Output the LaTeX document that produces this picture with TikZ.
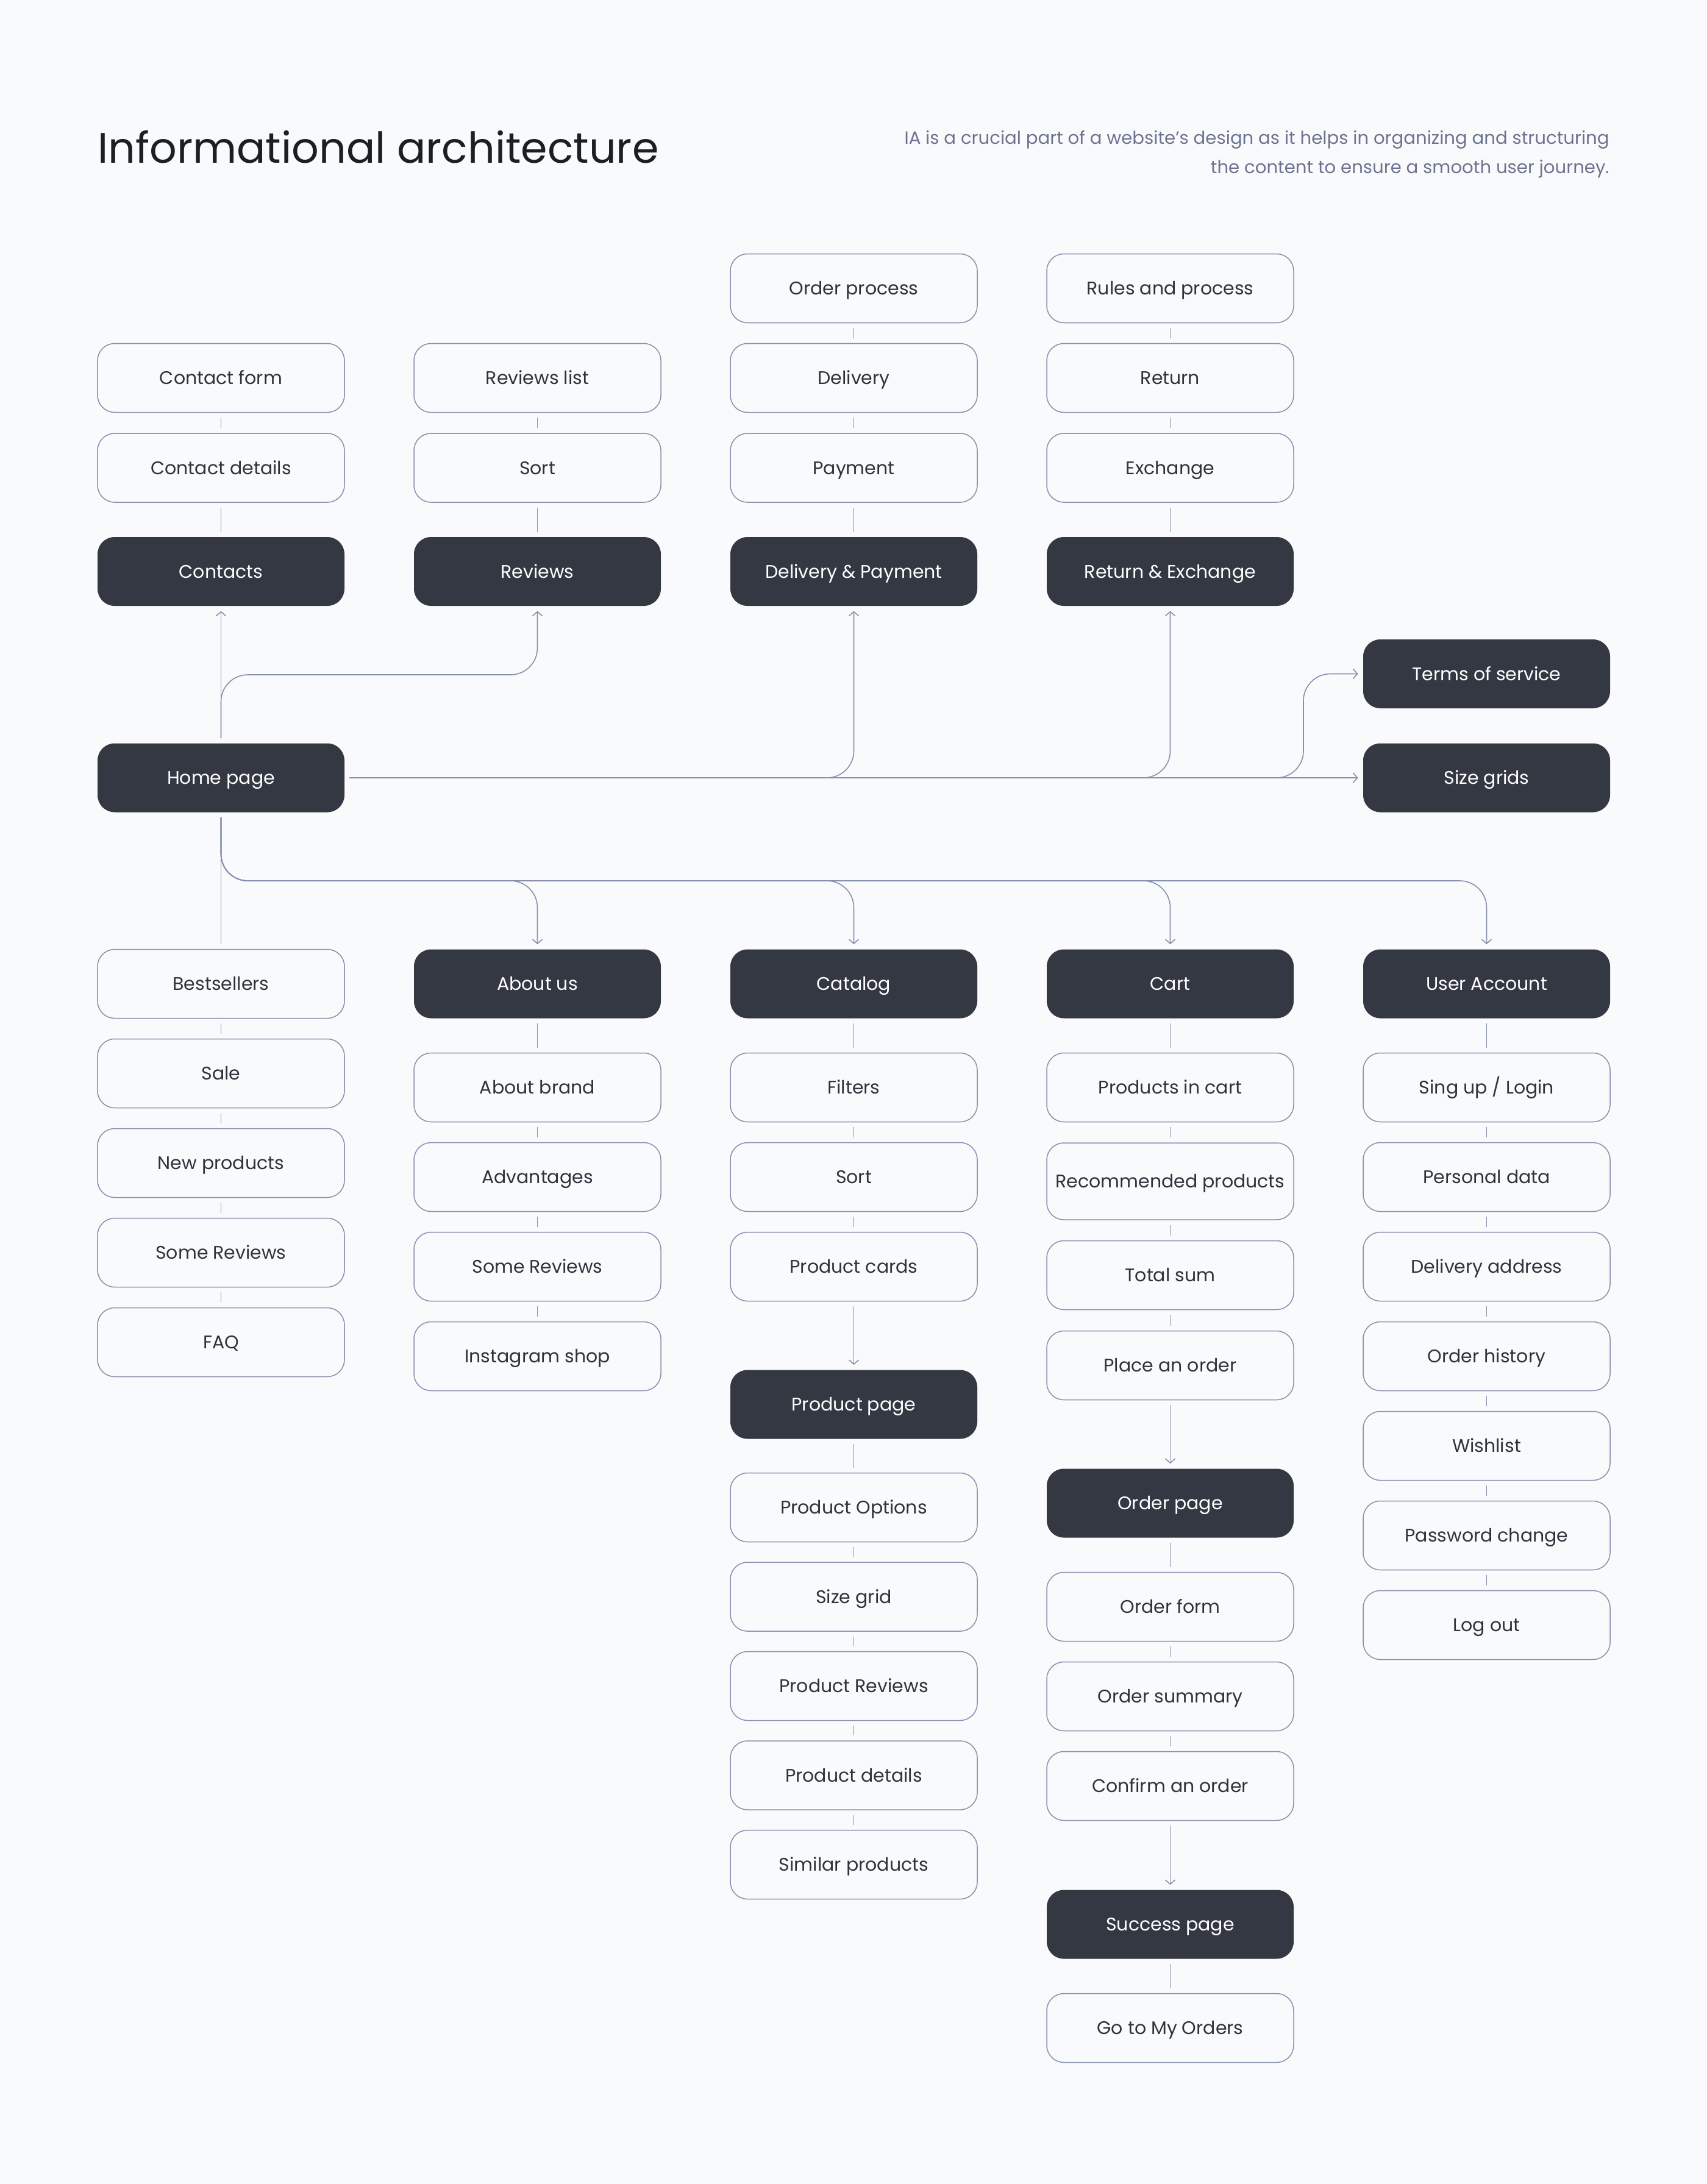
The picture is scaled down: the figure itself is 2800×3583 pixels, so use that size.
\documentclass[tikz,border=0pt]{standalone}
\usepackage{fontspec}
\setmainfont{Poppins}
\usetikzlibrary{arrows.meta}
\definecolor{bgc}{HTML}{F9FAFC}
\definecolor{darkbox}{HTML}{343843}
\definecolor{edge}{HTML}{8790AD}
\definecolor{txt}{HTML}{2E323B}
\definecolor{subtxt}{HTML}{6C7390}
\definecolor{titletxt}{HTML}{1C1E24}
\tikzset{
  boxbase/.style={rectangle, rounded corners=14pt, minimum width=202.5pt, minimum height=56.5pt, inner sep=0pt, text height=10.5pt, text depth=0pt, font=\fontsize{15pt}{18pt}\selectfont},
  lbox/.style={boxbase, draw=edge, line width=0.75pt, text=txt},
  dbox/.style={boxbase, fill=darkbox, text=white},
  link/.style={draw=edge, line width=0.8pt, shorten <=4pt, shorten >=4pt},
  arr/.style={link, -{Straight Barb[length=3.5pt,width=8pt]}},
}
\begin{document}
\begin{tikzpicture}[x=0.5pt,y=-0.5pt]
\fill[bgc] (0,0) rectangle (2800,3583);
\useasboundingbox (0,0) rectangle (2800,3583);

% title
\node[anchor=base west, inner sep=0pt, text=titletxt, font=\fontsize{35pt}{42pt}\selectfont] (title) at (160,267) {Informational architecture};
\node[anchor=base east, inner sep=0pt, text=subtxt, font=\fontsize{14.6pt}{17pt}\selectfont] (sub1) at (2640,236) {IA is a crucial part of a website's design as it helps in organizing and structuring};
\node[anchor=base east, inner sep=0pt, text=subtxt, font=\fontsize{14.6pt}{17pt}\selectfont] (sub2) at (2640,284) {the content to ensure a smooth user journey.};

% top section
\node[lbox] (orderproc) at (1400.5,473) {Order process};
\node[lbox] (rules) at (1919.5,473) {Rules and process};
\node[lbox] (contactform) at (362.5,620) {Contact form};
\node[lbox] (reviewslist) at (881.5,620) {Reviews list};
\node[lbox] (delivery) at (1400.5,620) {Delivery};
\node[lbox] (return) at (1919.5,620) {Return};
\node[lbox] (contactdet) at (362.5,767.5) {Contact details};
\node[lbox] (sorta) at (881.5,767.5) {Sort};
\node[lbox] (payment) at (1400.5,767.5) {Payment};
\node[lbox] (exchange) at (1919.5,767.5) {Exchange};
\node[dbox] (contacts) at (362.5,937.5) {Contacts};
\node[dbox] (reviews) at (881.5,937.5) {Reviews};
\node[dbox] (delivpay) at (1400.5,937.5) {Delivery \& Payment};
\node[dbox] (retex) at (1919.5,937.5) {Return \& Exchange};
\node[dbox] (terms) at (2438.5,1105.5) {Terms of service};
\node[dbox] (home) at (362.5,1276) {Home page};
\node[dbox] (sizegrids) at (2438.5,1276) {Size grids};

% lower section: column 1
\node[lbox] (bestsellers) at (362.5,1614) {Bestsellers};
\node[lbox] (sale) at (362.5,1761) {Sale};
\node[lbox] (newprod) at (362.5,1908) {New products};
\node[lbox] (somereva) at (362.5,2055) {Some Reviews};
\node[lbox] (faq) at (362.5,2202) {FAQ};
% column 2
\node[dbox] (aboutus) at (881.5,1614) {About us};
\node[lbox] (aboutbrand) at (881.5,1784) {About brand};
\node[lbox] (advantages) at (881.5,1931) {Advantages};
\node[lbox] (somerevb) at (881.5,2078) {Some Reviews};
\node[lbox] (instagram) at (881.5,2225) {Instagram shop};
% column 3
\node[dbox] (catalog) at (1400.5,1614) {Catalog};
\node[lbox] (filters) at (1400.5,1784) {Filters};
\node[lbox] (sortb) at (1400.5,1931) {Sort};
\node[lbox] (prodcards) at (1400.5,2078) {Product cards};
\node[dbox] (prodpage) at (1400.5,2304) {Product page};
\node[lbox] (options) at (1400.5,2473) {Product Options};
\node[lbox] (sizegrid) at (1400.5,2619.5) {Size grid};
\node[lbox] (prodreviews) at (1400.5,2766) {Product Reviews};
\node[lbox] (proddetails) at (1400.5,2912.5) {Product details};
\node[lbox] (similar) at (1400.5,3059) {Similar products};
% column 4
\node[dbox] (cart) at (1919.5,1614) {Cart};
\node[lbox] (prodincart) at (1919.5,1784) {Products in cart};
\node[lbox, minimum height=63pt] (recommended) at (1919.5,1938) {Recommended products};
\node[lbox] (totalsum) at (1919.5,2092) {Total sum};
\node[lbox] (placeorder) at (1919.5,2240) {Place an order};
\node[dbox] (orderpage) at (1919.5,2466) {Order page};
\node[lbox] (orderform) at (1919.5,2636) {Order form};
\node[lbox] (ordersummary) at (1919.5,2783) {Order summary};
\node[lbox] (confirm) at (1919.5,2930) {Confirm an order};
\node[dbox] (success) at (1919.5,3157) {Success page};
\node[lbox] (gotoorders) at (1919.5,3327) {Go to My Orders};
% column 5
\node[dbox] (useracc) at (2438.5,1614) {User Account};
\node[lbox] (signup) at (2438.5,1784) {Sing up / Login};
\node[lbox] (personal) at (2438.5,1931) {Personal data};
\node[lbox] (delivaddr) at (2438.5,2078) {Delivery address};
\node[lbox] (orderhist) at (2438.5,2225) {Order history};
\node[lbox] (wishlist) at (2438.5,2372) {Wishlist};
\node[lbox] (pwchange) at (2438.5,2519) {Password change};
\node[lbox] (logout) at (2438.5,2666) {Log out};

% bus coordinates
\coordinate (tbus) at (0,1107);
\coordinate (bbus) at (0,1445);
\coordinate (tcol) at (2138,0);

% top ticks
\draw[link] (orderproc) -- (delivery);
\draw[link] (delivery) -- (payment);
\draw[link] (payment) -- (delivpay);
\draw[link] (rules) -- (return);
\draw[link] (return) -- (exchange);
\draw[link] (exchange) -- (retex);
\draw[link] (contactform) -- (contactdet);
\draw[link] (contactdet) -- (contacts);
\draw[link] (reviewslist) -- (sorta);
\draw[link] (sorta) -- (reviews);

% home connectors up/right
\draw[arr] (home.north) -- (contacts.south);
\draw[arr, rounded corners=22pt] (home.north) |- (reviews.south |- tbus) -- (reviews.south);
\draw[arr] (home.east) -- (sizegrids.west);
\draw[arr, rounded corners=22pt] (home.east) -| (delivpay.south);
\draw[arr, rounded corners=22pt] (home.east) -| (retex.south);
\draw[arr, rounded corners=22pt] (home.east) -| (tcol |- terms.west) -- (terms.west);

% home connectors down
\draw[link] (home.south) -- (bestsellers.north);
\draw[arr, rounded corners=22pt] (home.south) |- (aboutus.north |- bbus) -- (aboutus.north);
\draw[arr, rounded corners=22pt] (home.south) |- (catalog.north |- bbus) -- (catalog.north);
\draw[arr, rounded corners=22pt] (home.south) |- (cart.north |- bbus) -- (cart.north);
\draw[arr, rounded corners=22pt] (home.south) |- (useracc.north |- bbus) -- (useracc.north);

% column ticks
\draw[link] (bestsellers) -- (sale);
\draw[link] (sale) -- (newprod);
\draw[link] (newprod) -- (somereva);
\draw[link] (somereva) -- (faq);

\draw[link] (aboutus) -- (aboutbrand);
\draw[link] (aboutbrand) -- (advantages);
\draw[link] (advantages) -- (somerevb);
\draw[link] (somerevb) -- (instagram);

\draw[link] (catalog) -- (filters);
\draw[link] (filters) -- (sortb);
\draw[link] (sortb) -- (prodcards);
\draw[arr] (prodcards) -- (prodpage);
\draw[link] (prodpage) -- (options);
\draw[link] (options) -- (sizegrid);
\draw[link] (sizegrid) -- (prodreviews);
\draw[link] (prodreviews) -- (proddetails);
\draw[link] (proddetails) -- (similar);

\draw[link] (cart) -- (prodincart);
\draw[link] (prodincart) -- (recommended);
\draw[link] (recommended) -- (totalsum);
\draw[link] (totalsum) -- (placeorder);
\draw[arr] (placeorder) -- (orderpage);
\draw[link] (orderpage) -- (orderform);
\draw[link] (orderform) -- (ordersummary);
\draw[link] (ordersummary) -- (confirm);
\draw[arr] (confirm) -- (success);
\draw[link] (success) -- (gotoorders);

\draw[link] (useracc) -- (signup);
\draw[link] (signup) -- (personal);
\draw[link] (personal) -- (delivaddr);
\draw[link] (delivaddr) -- (orderhist);
\draw[link] (orderhist) -- (wishlist);
\draw[link] (wishlist) -- (pwchange);
\draw[link] (pwchange) -- (logout);
\end{tikzpicture}
\end{document}
